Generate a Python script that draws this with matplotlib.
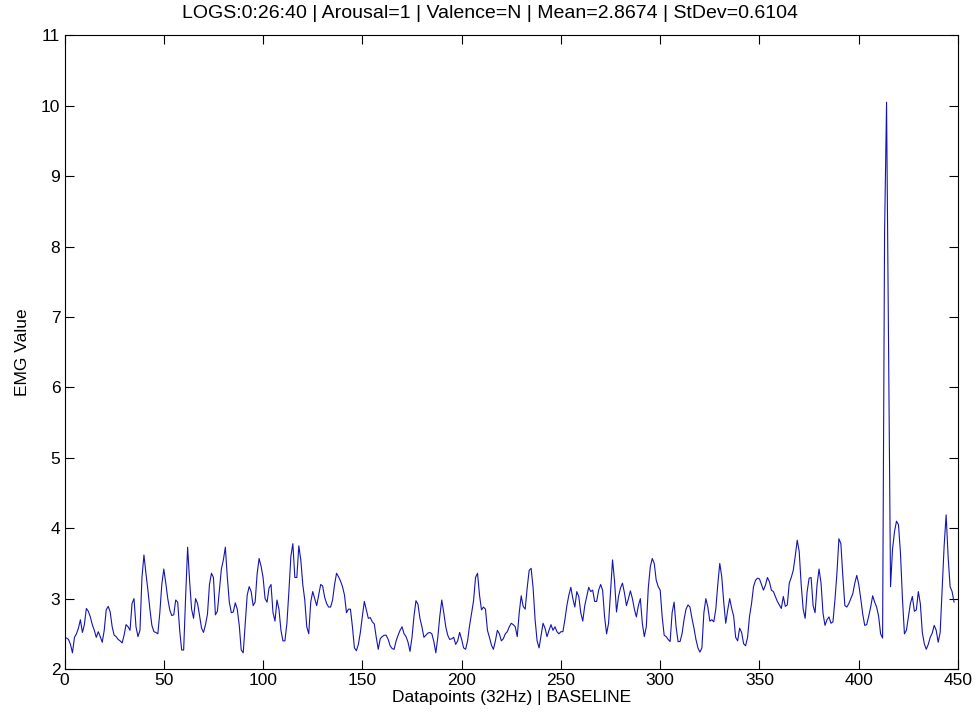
import numpy as np
import matplotlib
matplotlib.use("Agg")
import matplotlib.pyplot as plt

plt.rcParams['font.family'] = ['Liberation Sans', 'DejaVu Sans']

title_text = "LOGS:0:26:40 | Arousal=1 | Valence=N | Mean=2.8674 | StDev=0.6104"
xlabel_text = "Datapoints (32Hz) | BASELINE"
ylabel_text = "EMG Value"
xticks = [0, 50, 100, 150, 200, 250, 300, 350, 400, 450]
yticks = [2, 3, 4, 5, 6, 7, 8, 9, 10, 11]

seg01 = [2.44, 2.42, 2.35, 2.23, 2.45, 2.50, 2.58, 2.70, 2.52, 2.63,
         2.86, 2.82, 2.74, 2.63, 2.55, 2.45, 2.53, 2.46, 2.38, 2.55,
         2.84, 2.89, 2.81, 2.60, 2.48, 2.46, 2.42, 2.40, 2.37, 2.48,
         2.63, 2.60, 2.55, 2.93, 3.00, 2.60, 2.46, 2.55, 3.30, 3.62,
         3.36, 3.12, 2.85, 2.62, 2.53]
seg02 = [2.52, 2.50, 2.80, 3.20, 3.42, 3.22, 3.00, 2.84, 2.76, 2.77,
         2.98, 2.95, 2.55, 2.27, 2.27, 3.03, 3.73, 3.25, 2.85, 2.72,
         3.00, 2.93, 2.76, 2.58, 2.52, 2.63, 2.78, 3.20, 3.36, 3.30,
         2.77, 2.82, 3.12, 3.42, 3.55, 3.73, 3.30, 2.95, 2.80, 2.81,
         2.94, 2.85, 2.62, 2.27, 2.23]
seg03 = [2.65, 3.05, 3.17, 3.10, 2.90, 2.95, 3.35, 3.57, 3.46, 3.30,
         3.00, 2.95, 3.15, 3.20, 2.80, 2.68, 2.98, 2.85, 2.55, 2.40,
         2.40, 2.65, 3.10, 3.60, 3.78, 3.30, 3.30, 3.75, 3.55, 3.20,
         2.98, 2.60, 2.50, 2.95, 3.10, 3.00, 2.90, 3.05, 3.20, 3.18,
         3.02, 2.93, 2.88, 2.88, 2.98, 3.20]
seg04 = [3.36, 3.31, 3.25, 3.17, 3.05, 2.80, 2.85, 2.85, 2.60, 2.30,
         2.26, 2.35, 2.52, 2.75, 2.96, 2.84, 2.72, 2.73, 2.67, 2.64,
         2.45, 2.28, 2.43, 2.46, 2.48, 2.48, 2.42, 2.33, 2.29, 2.28,
         2.40, 2.48, 2.55, 2.60, 2.50, 2.46, 2.38, 2.25, 2.45, 2.75,
         2.97, 2.92, 2.72, 2.60, 2.45]
seg05 = [2.48, 2.51, 2.52, 2.50, 2.39, 2.23, 2.45, 2.75, 2.98, 2.80,
         2.60, 2.48, 2.42, 2.43, 2.45, 2.35, 2.40, 2.52, 2.42, 2.30,
         2.28, 2.40, 2.62, 2.79, 2.97, 3.30, 3.36, 3.05, 2.84, 2.88,
         2.85, 2.55, 2.45, 2.34, 2.28, 2.40, 2.55, 2.50, 2.40, 2.43,
         2.50, 2.53, 2.60, 2.65, 2.63, 2.60]
seg06 = [2.46, 2.80, 3.04, 2.89, 2.85, 3.15, 3.40, 3.43, 3.15, 2.70,
         2.40, 2.30, 2.48, 2.65, 2.58, 2.46, 2.55, 2.63, 2.55, 2.60,
         2.53, 2.50, 2.53, 2.53, 2.70, 2.90, 3.05, 3.16, 3.00, 2.88,
         3.10, 3.03, 2.80, 2.68, 2.90, 3.03, 3.16, 3.10, 3.12, 2.96,
         2.96, 3.12, 3.20, 3.12, 2.74]
seg07 = [2.50, 2.65, 3.10, 3.55, 3.25, 2.81, 3.03, 3.15, 3.22, 3.08,
         2.90, 3.00, 3.11, 3.00, 2.85, 2.74, 2.90, 3.00, 2.65, 2.46,
         2.60, 3.15, 3.45, 3.57, 3.50, 3.26, 3.17, 3.12, 2.74, 2.48,
         2.46, 2.42, 2.39, 2.80, 2.95, 2.60, 2.39, 2.39, 2.50, 2.70,
         2.85, 2.91, 2.88, 2.72, 2.58]
seg08 = [2.42, 2.30, 2.24, 2.30, 2.80, 3.00, 2.88, 2.68, 2.70, 2.67,
         2.85, 3.20, 3.50, 3.31, 2.95, 2.65, 2.84, 3.00, 2.86, 2.75,
         2.45, 2.40, 2.58, 2.52, 2.36, 2.33, 2.45, 2.75, 2.93, 3.17,
         3.26, 3.29, 3.28, 3.20, 3.12, 3.19, 3.30, 3.24, 3.12, 3.10,
         3.03, 2.96, 2.91, 2.86, 3.03]
seg09 = [2.89, 2.91, 3.22, 3.30, 3.40, 3.60, 3.83, 3.67, 3.20, 2.85,
         2.72, 3.10, 3.29, 3.30, 2.90, 2.80, 3.20, 3.42, 3.22, 2.79,
         2.62, 2.70, 2.74, 2.65, 2.67, 2.98, 3.36, 3.85, 3.78, 3.31,
         2.90, 2.88, 2.93, 3.00, 3.07, 3.22, 3.33, 3.20, 3.00, 2.78,
         2.62, 2.63, 2.75, 2.88, 3.04, 2.95]
seg10 = [2.88, 2.75, 2.50, 2.44, 8.20, 10.05, 6.60, 3.17, 3.70, 3.95,
         4.10, 4.05, 3.65, 3.00, 2.50, 2.55, 2.74, 2.93, 3.03, 2.82,
         2.84, 3.10, 2.93, 2.52, 2.36, 2.28, 2.35, 2.45, 2.51, 2.62,
         2.55, 2.38, 2.52, 3.15, 3.75, 4.19, 3.60, 3.17, 3.10, 2.95]

emg = np.concatenate([seg01, seg02, seg03, seg04, seg05,
                      seg06, seg07, seg08, seg09, seg10])
datapoints = np.arange(1, len(emg) + 1)

fig = plt.figure(figsize=(9.76, 7.21), dpi=100)
fig.patch.set_facecolor('white')
ax = fig.add_axes([0.0661, 0.0721, 0.9155, 0.8789])

ax.plot(datapoints, emg, color='#1414b4', linewidth=0.8)

ax.set_xlim(0, 450)
ax.set_ylim(2, 11)
ax.set_xticks(xticks)
ax.set_yticks(yticks)
ax.tick_params(direction='in', top=True, right=True, length=6.5,
               width=0.8, labelsize=12.5, pad=3)
for s in ax.spines.values():
    s.set_linewidth(0.8)
    s.set_color('black')

fig.text(490 / 976, 1 - 14 / 721, title_text, fontsize=14,
         ha='center', va='center')
ax.set_xlabel(xlabel_text, fontsize=12.5, labelpad=1)
ax.set_ylabel(ylabel_text, fontsize=12.5, labelpad=8)

fig.savefig("out.png", dpi=100, facecolor='white')
